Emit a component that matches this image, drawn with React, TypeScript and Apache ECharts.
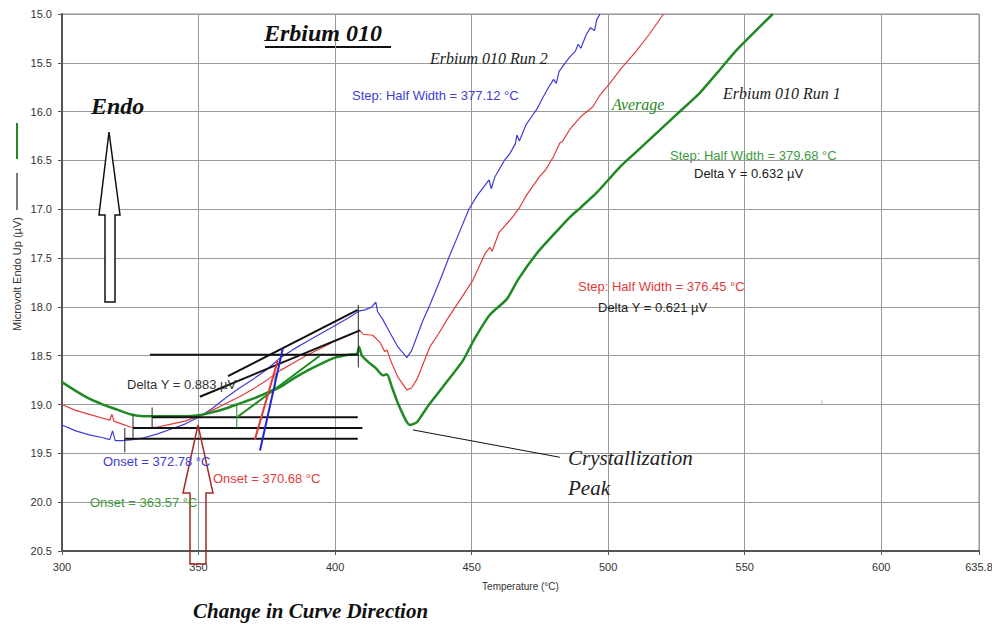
import React, { useEffect, useRef } from "react";
import * as echarts from "echarts";

// ---- Data ----
const xTicks = [300, 350, 400, 450, 500, 550, 600, 635.8];
const yTicks = [15.0, 15.5, 16.0, 16.5, 17.0, 17.5, 18.0, 18.5, 19.0, 19.5, 20.0, 20.5];

// Erbium 010 Run 2 (blue)
const blueRun2: [number, number][] = [
  [300, 19.21], [305, 19.27], [310, 19.31], [315, 19.34], [317.5, 19.36], [318.5, 19.27], [319.5, 19.37],
  [322, 19.37], [326, 19.36], [330, 19.34], [335, 19.3], [340, 19.25], [345, 19.2], [350, 19.13],
  [355, 19.04], [360, 18.93], [365, 18.83], [370, 18.74], [375, 18.64], [380, 18.52], [385, 18.43],
  [390, 18.35], [395, 18.27], [400, 18.19], [405, 18.11], [409, 18.04], [411, 18.03], [413.5, 18.0],
  [414.9, 17.95], [415.6, 18.05], [417.5, 18.13], [420, 18.26], [423, 18.41], [426.3, 18.52], [428, 18.45],
  [430, 18.3], [432, 18.15], [434.7, 17.98], [438.4, 17.73], [442, 17.47], [445, 17.27], [449, 17.0],
  [452, 16.86], [455, 16.75], [456.4, 16.7], [457.2, 16.79], [458.5, 16.67], [462, 16.5], [464, 16.43],
  [466, 16.33], [466.6, 16.24], [467.5, 16.3], [470, 16.13], [472, 16.05], [474, 15.97], [476, 15.86],
  [478, 15.76], [480, 15.67], [481, 15.71], [482, 15.59], [484, 15.51], [486, 15.44], [488, 15.38],
  [489, 15.31], [490, 15.35], [492, 15.21], [493.5, 15.14], [495, 15.17], [495.8, 15.06], [497, 15.0]
];

// Average (red)
const redAverage: [number, number][] = [
  [300, 19.0], [305, 19.06], [310, 19.1], [315, 19.14], [317.5, 19.16], [318.3, 19.1], [319, 19.17],
  [322, 19.2], [325, 19.23], [330, 19.24], [335, 19.23], [340, 19.2], [345, 19.17], [350, 19.12],
  [355, 19.06], [360, 18.99], [365, 18.92], [370, 18.84], [375, 18.75], [380, 18.65], [385, 18.57],
  [390, 18.49], [395, 18.42], [400, 18.35], [405, 18.29], [409.1, 18.24], [410.2, 18.28], [413.8, 18.29],
  [416.4, 18.36], [418.2, 18.46], [419, 18.44], [420.5, 18.56], [423, 18.72], [426.3, 18.85], [428, 18.83],
  [430, 18.74], [432, 18.6], [434.7, 18.41], [438, 18.27], [441, 18.13], [445.7, 17.93], [450.4, 17.73],
  [455, 17.45], [456.7, 17.39], [457.5, 17.43], [460, 17.24], [465, 17.08], [467.6, 16.98], [470, 16.86],
  [475, 16.66], [477, 16.6], [480, 16.46], [482.3, 16.32], [483.4, 16.3], [486, 16.18], [490, 16.05],
  [494.4, 15.95], [497, 15.83], [500.6, 15.71], [505, 15.55], [510, 15.39], [515, 15.21], [520.3, 15.0]
];

// Erbium 010 Run 1 (green)
const greenRun1: [number, number][] = [
  [300, 18.77], [305, 18.86], [310, 18.94], [315, 19.0], [320, 19.05], [325, 19.1], [330, 19.12],
  [335, 19.12], [340, 19.12], [345, 19.12], [350, 19.11], [355, 19.08], [360, 19.04], [365, 18.99],
  [370, 18.94], [375, 18.88], [380, 18.82], [385, 18.73], [390, 18.65], [395, 18.58], [400, 18.52],
  [405, 18.49], [408, 18.48], [408.8, 18.41], [409.8, 18.5], [412, 18.56], [415, 18.63], [417.5, 18.7],
  [419, 18.69], [420.8, 18.82], [422.5, 18.95], [424.5, 19.08], [426.3, 19.18], [427.4, 19.21], [430, 19.18],
  [432, 19.1], [434.7, 18.99], [440, 18.8], [446.8, 18.55], [451, 18.33], [456.7, 18.08], [462.9, 17.92],
  [467, 17.72], [473.9, 17.45], [480, 17.26], [486, 17.08], [490, 16.98], [495.8, 16.83], [504.2, 16.57],
  [510, 16.42], [518.9, 16.19], [525, 16.03], [533.5, 15.81], [540, 15.6], [547, 15.37], [553, 15.2],
  [560.3, 15.0]
];

// Analysis construction lines
const blackBaselines: [number, number][][] = [
  [[332.2, 18.49], [408.3, 18.49]],
  [[333, 19.13], [408.3, 19.13]],
  [[326, 19.24], [410, 19.24]],
  [[323, 19.35], [408.3, 19.35]]
];
const blackTangents: [number, number][][] = [
  [[360.8, 18.71], [408.3, 18.03]],
  [[350.5, 18.92], [409.1, 18.24]]
];
const blackTicks: [number, number][][] = [
  [[333, 19.03], [333, 19.23]],
  [[326, 19.11], [326, 19.36]],
  [[323, 19.24], [323, 19.49]],
  [[408.5, 17.98], [408.5, 18.62]]
];
const greenSegs: [number, number][][] = [
  [[364.1, 19.13], [394.4, 18.5]]
];
const greenTicks: [number, number][][] = [
  [[364, 19.0], [364, 19.24]],
  [[378, 18.7], [378, 18.86]]
];
const redSteep: [number, number][][] = [[[370.6, 19.36], [379, 18.55]]];
const blueSteep: [number, number][][] = [[[372.5, 19.47], [380.9, 18.42]]];
const peakLeader: [number, number][] = [[428.5, 19.26], [482.3, 19.54]];

const BLUE = "#3d3dd6";
const RED = "#e23b3b";
const GREEN = "#1f8a22";
const SANS = "'Liberation Sans', Arial, sans-serif";
const SERIF = "'Liberation Serif', 'Times New Roman', serif";

function segSeries(segs: [number, number][][], color: string, width: number) {
  return segs.map((s) => ({
    type: "line",
    data: s,
    symbol: "none",
    silent: true,
    z: 5,
    lineStyle: { color, width },
  }));
}

function txt(text: string, x: number, y: number, fill: string, font: string) {
  return {
    type: "text",
    x,
    y,
    z: 10,
    style: { text, fill, font, verticalAlign: "middle", align: "left" },
  };
}

export default function App() {
  const ref = useRef<HTMLDivElement>(null);
  useEffect(() => {
    if (!ref.current) return;
    const chart = echarts.init(ref.current, undefined, { renderer: "svg" });
    const option: any = {
      animation: false,
      backgroundColor: "#ffffff",
      grid: {
        left: 62, right: 13, top: 14, bottom: 77,
        show: true, borderColor: "#8a8a8a", borderWidth: 1,
        outerBoundsMode: "none",
      },
      xAxis: {
        type: "value",
        min: 300,
        max: 635.8,
        interval: 50,
        name: "Temperature (°C)",
        nameLocation: "middle",
        nameGap: 30,
        nameTextStyle: { fontFamily: SANS, fontSize: 10, color: "#333" },
        axisLine: { show: true, onZero: false, lineStyle: { color: "#555", width: 2 } },
        axisTick: { show: true, length: 4, customValues: xTicks, lineStyle: { color: "#555" } },
        axisLabel: {
          customValues: xTicks,
          fontFamily: SANS, fontSize: 11, color: "#333", margin: 10,
          formatter: (v: number) => (Number.isInteger(v) ? String(v) : v.toFixed(1)),
        },
        splitLine: { show: true, lineStyle: { color: "#9a9a9a", width: 1 } },
      },
      yAxis: {
        type: "value",
        inverse: true,
        min: 15,
        max: 20.5,
        interval: 0.5,
        axisLine: { show: true, onZero: false, lineStyle: { color: "#555", width: 2 } },
        axisTick: { show: true, length: 4, inside: false, lineStyle: { color: "#555" } },
        axisLabel: {
          fontFamily: SANS, fontSize: 11, color: "#333", margin: 10,
          formatter: (v: number) => v.toFixed(1),
          customValues: yTicks,
        },
        splitLine: { show: true, lineStyle: { color: "#9a9a9a", width: 1 } },
      },
      series: [
        { name: "Erbium 010 Run 2", type: "line", data: blueRun2, symbol: "none", silent: true, z: 3, lineStyle: { color: BLUE, width: 1.2 } },
        { name: "Average", type: "line", data: redAverage, symbol: "none", silent: true, z: 3, lineStyle: { color: RED, width: 1.2 } },
        { name: "Erbium 010 Run 1", type: "line", data: greenRun1, symbol: "none", smooth: 0.2, silent: true, z: 3, lineStyle: { color: GREEN, width: 2.5 } },
        ...segSeries(blackBaselines, "#111", 2),
        ...segSeries(blackTangents, "#111", 2),
        ...segSeries(blackTicks, "#222", 1),
        ...segSeries(greenSegs, GREEN, 2),
        ...segSeries(greenTicks, GREEN, 1),
        ...segSeries(redSteep, RED, 2),
        ...segSeries(blueSteep, "#2626d0", 2),
        { type: "line", data: peakLeader, symbol: "none", silent: true, z: 5, lineStyle: { color: "#111", width: 1 } },
      ],
      graphic: [
        // y-axis name with legend marks
        { type: "line", shape: { x1: 17, y1: 123, x2: 17, y2: 159 }, style: { stroke: GREEN, lineWidth: 2 } },
        { type: "line", shape: { x1: 17, y1: 173, x2: 17, y2: 210 }, style: { stroke: "#222", lineWidth: 1.2 } },
        {
          type: "text", x: 17, y: 274, rotation: Math.PI / 2,
          style: { text: "Microvolt Endo Up (µV)", fill: "#333", font: `11px ${SANS}`, align: "center", verticalAlign: "middle" },
        },
        // Title
        txt("Erbium 010", 264, 33, "#111", `italic bold 24px ${SERIF}`),
        { type: "line", shape: { x1: 265, y1: 47, x2: 391, y2: 47 }, style: { stroke: "#111", lineWidth: 2 } },
        // Curve labels
        txt("Erbium 010 Run 2", 430, 58, "#222", `italic 16px ${SERIF}`),
        txt("Average", 612, 104, GREEN, `italic 16px ${SERIF}`),
        txt("Erbium 010 Run 1", 723, 93, "#222", `italic 16px ${SERIF}`),
        // Analysis results
        txt("Step: Half Width = 377.12 °C", 352, 95, BLUE, `13px ${SANS}`),
        txt("Step: Half Width = 379.68 °C", 670, 155, "#3f9a3f", `13px ${SANS}`),
        txt("Delta Y = 0.632 µV", 694, 173, "#222", `13px ${SANS}`),
        txt("Step: Half Width = 376.45 °C", 578, 286, RED, `13px ${SANS}`),
        txt("Delta Y = 0.621 µV", 598, 307, "#222", `13px ${SANS}`),
        txt("Delta Y = 0.883 µV", 127, 384, "#333", `13px ${SANS}`),
        txt("Onset = 372.78 °C", 103, 461, BLUE, `13px ${SANS}`),
        txt("Onset = 370.68 °C", 213, 478, RED, `13px ${SANS}`),
        txt("Onset = 363.57 °C", 90, 502, "#3f9a3f", `13px ${SANS}`),
        // Annotations
        txt("Crystallization", 568, 458, "#222", `italic 21px ${SERIF}`),
        txt("Peak", 568, 488, "#222", `italic 21px ${SERIF}`),
        txt("Endo", 91, 106, "#111", `italic bold 24px ${SERIF}`),
        txt("Change in Curve Direction", 193, 611, "#111", `italic bold 21px ${SERIF}`),
        // Endo arrow (hollow, white fill)
        {
          type: "polygon", z: 9,
          shape: { points: [[109, 132], [120, 215], [115, 215], [115, 302], [105, 302], [105, 215], [99, 215]] },
          style: { fill: "#ffffff", stroke: "#111", lineWidth: 1.5 },
        },
        // Change-in-direction arrow (hollow, transparent)
        {
          type: "polygon", z: 9,
          shape: { points: [[198, 425], [213, 493], [206, 493], [206, 564], [190, 564], [190, 493], [183, 493]] },
          style: { fill: "none", stroke: "#a32a2a", lineWidth: 1.5 },
        },
        // tiny pink mark
        { type: "line", shape: { x1: 822, y1: 400, x2: 822, y2: 404 }, style: { stroke: "#e8a0d0", lineWidth: 1 } },
      ],
    };
    chart.setOption(option);
    return () => chart.dispose();
  }, []);
  return (
    <div
      ref={ref}
      style={{ position: "fixed", left: 0, top: 0, width: 992, height: 628, background: "#fff" }}
    />
  );
}
